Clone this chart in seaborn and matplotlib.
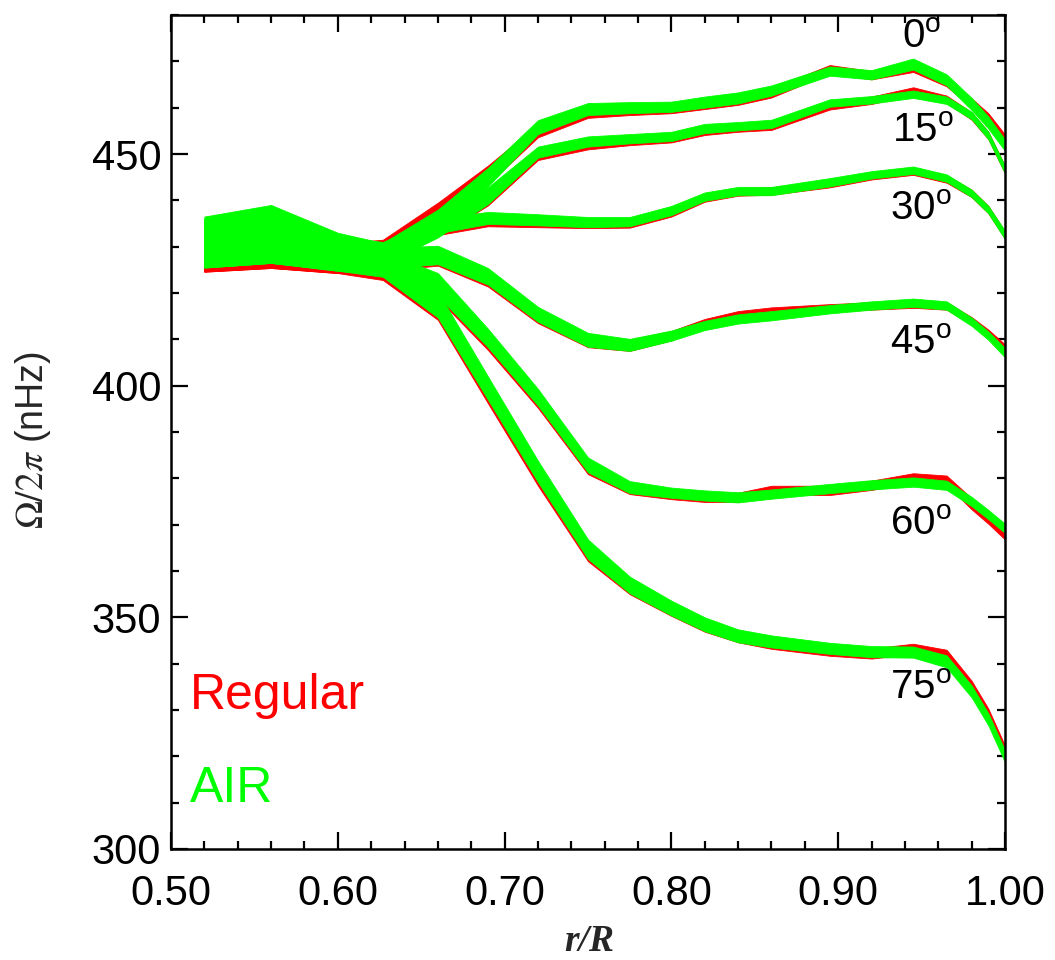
import numpy as np
import pandas as pd
import seaborn as sns
import matplotlib
matplotlib.use('Agg')
import matplotlib.pyplot as plt
from matplotlib.ticker import MultipleLocator, FormatStrFormatter

# radial grid
r = [0.52, 0.56, 0.60, 0.627, 0.66, 0.69, 0.72, 0.75, 0.775, 0.80,
     0.82, 0.84, 0.86, 0.895, 0.92, 0.945, 0.965, 0.98, 0.99, 1.00]

lats = [0, 15, 30, 45, 60, 75]
lat_label_r = [0.938, 0.932, 0.931, 0.931, 0.931, 0.931]
lat_label_v = [472.8, 452.6, 435.8, 406.9, 367.7, 332.3]

# AIR inversion: band centre and half-width (nHz)
air_00 = [432.0, 433.5, 429.5, 428.8, 436.0, 445.0, 455.8, 459.7, 460.0, 460.2,
          461.2, 462.1, 463.7, 467.9, 467.1, 469.4, 466.0, 460.8, 456.8, 451.9]
air_00_err = [4.5, 5.5, 3.5, 2.0, 2.0, 2.0, 1.5, 1.3, 1.2, 1.1,
              1.2, 1.2, 1.1, 1.0, 1.0, 1.2, 1.2, 1.3, 1.3, 1.2]
air_15 = [431.5, 433.0, 429.0, 428.3, 434.0, 441.0, 450.4, 452.7, 453.3, 453.8,
          455.5, 456.0, 456.5, 461.0, 461.7, 462.9, 461.6, 458.3, 454.0, 446.6]
air_15_err = [4.5, 5.5, 3.5, 2.2, 2.0, 1.8, 1.2, 1.1, 1.0, 1.0,
              1.0, 0.9, 0.9, 0.8, 0.8, 0.8, 0.8, 0.8, 0.8, 0.8]
air_30 = [431.0, 432.5, 428.8, 429.0, 434.5, 436.2, 435.8, 435.3, 435.4, 437.8,
          440.8, 442.0, 442.0, 443.9, 445.5, 446.5, 444.8, 441.5, 438.0, 432.5]
air_30_err = [5.0, 6.0, 3.5, 2.0, 1.6, 1.3, 1.2, 1.1, 1.0, 1.0,
              0.9, 0.9, 0.9, 0.9, 0.8, 0.8, 0.8, 0.8, 0.8, 0.9]
air_45 = [430.5, 432.0, 428.5, 427.5, 428.2, 423.6, 415.4, 409.9, 408.8, 410.8,
          413.0, 414.4, 415.1, 416.5, 417.3, 417.9, 417.3, 413.8, 410.8, 407.1]
air_45_err = [5.0, 5.5, 3.5, 2.2, 2.0, 1.8, 1.6, 1.5, 1.3, 1.1,
              1.0, 1.0, 1.0, 0.9, 0.9, 0.9, 0.9, 0.9, 0.9, 1.0]
air_60 = [430.0, 432.0, 428.2, 426.5, 421.8, 410.3, 397.5, 382.9, 378.1, 376.9,
          376.3, 375.9, 376.6, 377.8, 378.6, 379.2, 378.5, 375.0, 372.2, 369.2]
air_60_err = [4.5, 5.5, 3.4, 2.5, 2.5, 2.0, 1.8, 1.6, 1.3, 1.1,
              1.1, 1.1, 1.0, 1.0, 1.0, 1.0, 1.0, 1.0, 1.0, 1.0]
air_75 = [430.0, 432.0, 428.0, 426.0, 417.5, 399.5, 381.5, 364.7, 357.0, 352.0,
          348.5, 346.0, 344.8, 343.3, 342.6, 342.5, 340.5, 334.0, 328.0, 320.0]
air_75_err = [4.5, 5.5, 3.2, 2.5, 2.8, 2.5, 2.3, 2.1, 1.8, 1.6,
              1.5, 1.4, 1.3, 1.2, 1.2, 1.2, 1.3, 1.3, 1.3, 1.3]

# Regular inversion
reg_00 = [428.5, 429.0, 427.5, 429.0, 437.5, 445.5, 455.0, 459.0, 459.5, 459.8,
          460.7, 461.6, 463.2, 468.3, 467.0, 468.6, 465.6, 461.0, 457.8, 453.2]
reg_00_err = [3.9, 3.6, 3.2, 2.5, 2.0, 2.0, 1.4, 1.2, 1.1, 1.0,
              1.0, 1.0, 1.0, 0.9, 0.9, 0.9, 1.0, 1.0, 1.0, 1.0]
reg_15 = [428.5, 429.0, 427.5, 428.8, 434.0, 440.5, 449.8, 452.0, 452.8, 453.4,
          455.0, 455.6, 456.0, 460.4, 461.6, 463.6, 461.8, 458.2, 454.0, 446.6]
reg_15_err = [3.6, 3.4, 3.0, 2.2, 1.8, 1.6, 1.1, 1.0, 0.9, 0.9,
              0.9, 0.8, 0.8, 0.8, 0.8, 0.8, 0.8, 0.8, 0.8, 0.8]
reg_30 = [428.5, 429.0, 427.5, 428.5, 434.0, 435.6, 435.3, 435.0, 435.0, 437.4,
          440.5, 441.8, 442.0, 443.6, 445.3, 446.3, 444.6, 441.5, 438.0, 432.5]
reg_30_err = [3.8, 3.5, 3.1, 2.0, 1.5, 1.2, 1.1, 1.0, 0.9, 0.9,
              0.8, 0.8, 0.8, 0.8, 0.8, 0.8, 0.8, 0.8, 0.8, 0.8]
reg_45 = [428.5, 429.0, 427.5, 427.0, 427.7, 423.0, 415.0, 409.6, 408.7, 410.8,
          413.5, 415.2, 416.0, 416.8, 417.2, 417.6, 417.2, 414.0, 411.3, 408.0]
reg_45_err = [3.8, 3.5, 3.1, 2.2, 1.8, 1.6, 1.5, 1.3, 1.2, 1.0,
              0.9, 0.9, 0.9, 0.8, 0.8, 0.8, 0.8, 0.8, 0.8, 0.9]
reg_60 = [428.5, 429.0, 427.5, 426.0, 421.0, 409.5, 396.8, 382.3, 377.7, 376.5,
          375.9, 375.9, 377.4, 377.4, 378.5, 380.1, 379.6, 374.5, 371.5, 368.2]
reg_60_err = [3.8, 3.5, 3.1, 2.5, 2.2, 1.8, 1.6, 1.4, 1.1, 1.0,
              1.0, 1.0, 1.0, 1.0, 1.0, 1.0, 1.0, 1.2, 1.3, 1.4]
reg_75 = [428.5, 429.0, 427.5, 425.5, 416.8, 398.5, 380.5, 364.0, 356.6, 351.8,
          348.3, 345.9, 344.4, 342.8, 342.2, 343.2, 341.8, 335.0, 329.0, 321.0]
reg_75_err = [3.9, 3.6, 3.2, 2.7, 2.6, 2.3, 2.1, 1.9, 1.6, 1.5,
              1.4, 1.3, 1.2, 1.1, 1.1, 1.1, 1.2, 1.3, 1.3, 1.3]

air_bands = [(air_00, air_00_err), (air_15, air_15_err), (air_30, air_30_err),
             (air_45, air_45_err), (air_60, air_60_err), (air_75, air_75_err)]
reg_bands = [(reg_00, reg_00_err), (reg_15, reg_15_err), (reg_30, reg_30_err),
             (reg_45, reg_45_err), (reg_60, reg_60_err), (reg_75, reg_75_err)]

RED = '#ff0000'
GREEN = '#00ff00'


def band_frame(mid, err):
    # two rows per radius (lower and upper edge); min-max interval gives the band
    mid, err = np.asarray(mid), np.asarray(err)
    return pd.DataFrame({
        'r': np.concatenate([r, r]),
        'omega': np.concatenate([mid - err, mid + err]),
    })


sns.set_theme(style='ticks')
plt.rcParams['font.family'] = ['Liberation Sans', 'DejaVu Sans']
plt.rcParams['mathtext.fontset'] = 'stix'
plt.rcParams['mathtext.rm'] = 'Liberation Sans'

fig = plt.figure(figsize=(10.55, 9.6), dpi=100)
ax = fig.add_axes([171 / 1055, 1 - 849 / 960, 834 / 1055, 834 / 960])

for bands, color in [(reg_bands, RED), (air_bands, GREEN)]:
    for mid, err in bands:
        sns.lineplot(data=band_frame(mid, err), x='r', y='omega',
                     estimator='mean', errorbar=('pi', 100),
                     color=color, linewidth=0, ax=ax,
                     err_kws=dict(alpha=1, linewidth=0.6, edgecolor=color))

ax.set_xlim(0.5, 1.0)
ax.set_ylim(300, 480)
ax.xaxis.set_major_locator(MultipleLocator(0.1))
ax.xaxis.set_minor_locator(MultipleLocator(0.02))
ax.xaxis.set_major_formatter(FormatStrFormatter('%.2f'))
ax.yaxis.set_major_locator(MultipleLocator(50))
ax.yaxis.set_minor_locator(MultipleLocator(10))
ax.tick_params(which='both', direction='in', top=True, right=True,
               color='black', labelsize=30, labelcolor='black')
ax.tick_params(which='major', length=12, width=1.6)
ax.tick_params(which='minor', length=6, width=1.6)
ax.tick_params(axis='x', pad=18)
ax.tick_params(axis='y', pad=7)
for s in ax.spines.values():
    s.set_linewidth(1.8)
    s.set_color('black')

ax.set_xlabel('r/R', fontsize=27, family='Liberation Serif',
              style='italic', weight='bold')
ax.xaxis.set_label_coords(0.502, -0.090)
ax.set_ylabel(r'$\Omega/2\pi$ (nHz)', fontsize=27)
ax.yaxis.set_label_coords(-0.142, 0.49)

for lat, lr, lv in zip(lats, lat_label_r, lat_label_v):
    ax.text(lr, lv, f'{lat}' + r'$^{\mathrm{o}}$', fontsize=29,
            ha='left', va='baseline', color='black', math_fontfamily='custom')

ax.text(0.5114, 330.2, 'Regular', fontsize=36, color=RED, ha='left', va='baseline')
ax.text(0.5114, 310.1, 'AIR', fontsize=36, color=GREEN, ha='left', va='baseline')

fig.savefig('out.png', dpi=100)
